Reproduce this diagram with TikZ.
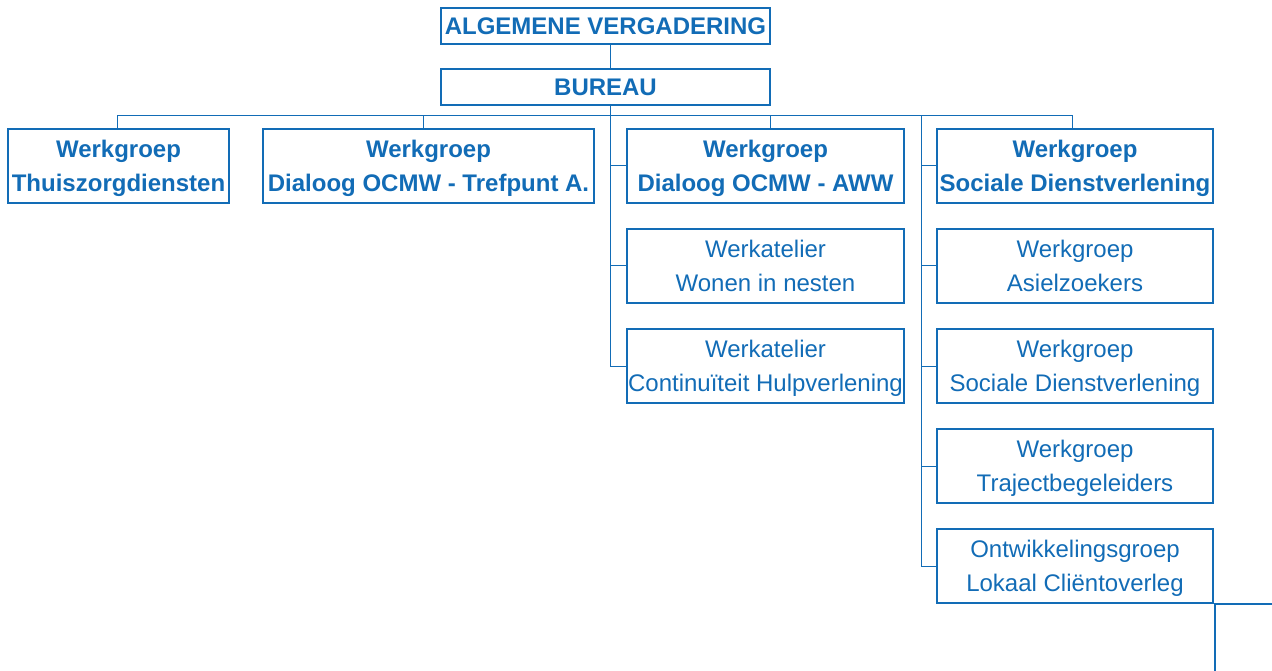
\documentclass[tikz,border=0pt]{standalone}
\usepackage{fontspec}
\setmainfont{Liberation Sans}
\definecolor{orgblue}{RGB}{18,108,182}
\begin{document}
\begin{tikzpicture}[x=1pt,y=-1pt,
  box/.style={draw=orgblue, line width=2pt, text=orgblue, align=center,
    inner sep=0pt, text depth=0pt, font=\fontsize{24}{34}\selectfont},
  boldbox/.style={box, font=\fontsize{24}{34}\selectfont\bfseries},
  link/.style={draw=orgblue, line width=1pt},
  heavy/.style={draw=orgblue, line width=2pt}]
\useasboundingbox (0,0) rectangle (1272,671);
% top
\node[boldbox, minimum width=329pt, minimum height=36pt] (av) at (605.5,26) {ALGEMENE VERGADERING};
\node[boldbox, minimum width=329pt, minimum height=36pt] (bu) at (605.5,87) {BUREAU};
% first row
\node[boldbox, minimum width=221pt, minimum height=74pt] (t1) at (118.5,166) {Werkgroep\\Thuiszorgdiensten};
\node[boldbox, minimum width=331pt, minimum height=74pt] (t2) at (428.5,166) {Werkgroep\\Dialoog OCMW - Trefpunt A.};
\node[boldbox, minimum width=277pt, minimum height=74pt] (t3) at (765.5,166) {Werkgroep\\Dialoog OCMW - AWW};
\node[boldbox, minimum width=276pt, minimum height=74pt] (t4) at (1075,166) {Werkgroep\\Sociale Dienstverlening};
% column under t3
\node[box, minimum width=277pt, minimum height=74pt] (w1) at (765.5,266) {Werkatelier\\Wonen in nesten};
\node[box, minimum width=277pt, minimum height=74pt] (w2) at (765.5,366) {Werkatelier\\Continuïteit Hulpverlening};
% column under t4
\node[box, minimum width=276pt, minimum height=74pt] (s1) at (1075,266) {Werkgroep\\Asielzoekers};
\node[box, minimum width=276pt, minimum height=74pt] (s2) at (1075,366) {Werkgroep\\Sociale Dienstverlening};
\node[box, minimum width=276pt, minimum height=74pt] (s3) at (1075,466) {Werkgroep\\Trajectbegeleiders};
\node[box, minimum width=276pt, minimum height=74pt] (s4) at (1075,566) {Ontwikkelingsgroep\\Lokaal Cliëntoverleg};
% coordinates of the connector lines
\coordinate (trunk) at (610.5,116);
\coordinate (d1) at (117,116);
\coordinate (d2) at (423.5,116);
\coordinate (d3) at (770,116);
\coordinate (d4) at (1072.5,116);
\coordinate (spineB) at (921,116);
% connectors
\draw[link] (av.south -| trunk) -- (bu.north -| trunk);
\draw[link] (d1) -- (d4);
\draw[link] (d1) -- (t1.north -| d1);
\draw[link] (d2) -- (t2.north -| d2);
\draw[link] (d3) -- (t3.north -| d3);
\draw[link] (d4) -- (t4.north -| d4);
% spine A
\draw[link] (bu.south -| trunk) -- (w2.west -| trunk) -- (w2.west);
\draw[link] (t3.west -| trunk) -- (t3.west);
\draw[link] (w1.west -| trunk) -- (w1.west);
% spine B
\draw[link] (spineB) -- (s4.west -| spineB) -- (s4.west);
\draw[link] (t4.west -| spineB) -- (t4.west);
\draw[link] (s1.west -| spineB) -- (s1.west);
\draw[link] (s2.west -| spineB) -- (s2.west);
\draw[link] (s3.west -| spineB) -- (s3.west);
% stray lines at the bottom right
\coordinate (edgeR) at (1272,604);
\coordinate (edgeB) at (1215,671);
\draw[heavy] (s4.south east) -- (s4.south east -| edgeR);
\draw[heavy] (s4.south east -| edgeB) -- (edgeB);
\end{tikzpicture}
\end{document}
